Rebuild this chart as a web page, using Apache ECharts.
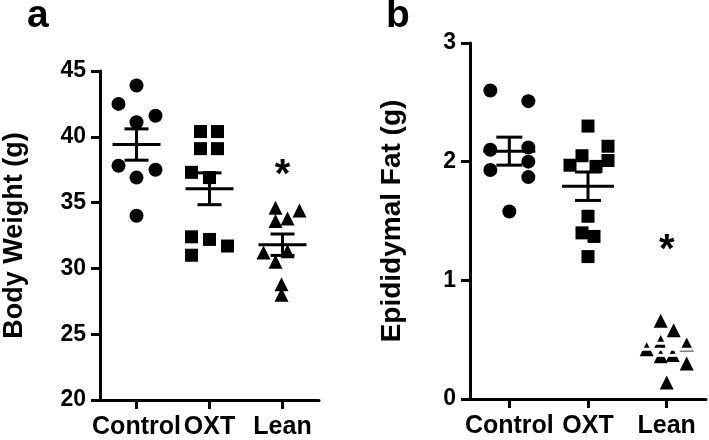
<!DOCTYPE html>
<html>
<head>
<meta charset="utf-8">
<script src="https://cdn.jsdelivr.net/npm/echarts@6/dist/echarts.min.js"></script>
<style>
  html, body { margin: 0; padding: 0; background: #fff; }
  #chart { width: 709px; height: 440px; }
</style>
</head>
<body>
<div id="chart"></div>
<script>
// groups
var groups = ['Control', 'OXT', 'Lean'];

// a: body weight (g)
var bwControl = [43.9, 42.5, 41.6, 41.1, 37.8, 37.5, 36.9, 34.0];
var bwOxt = [40.4, 40.4, 39.1, 39.1, 37.3, 36.9, 32.4, 32.2, 31.7, 31.0];
var bwLean = [34.6, 34.4, 33.6, 33.8, 31.2, 31.3, 30.5, 28.8, 28.0];
var bwStar = 37.6; // '*' over Lean

// b: epididymal fat (g)
var fatControl = [2.60, 2.51, 2.10, 2.12, 2.00, 1.93, 1.87, 1.58];
var fatOxt = [2.30, 2.13, 2.01, 2.05, 1.97, 1.96, 1.54, 1.40, 1.37, 1.20];
var fatLean = [0.66, 0.58, 0.48, 0.42, 0.46, 0.36, 0.37, 0.30, 0.14];
var fatStar = 1.32;

// y ticks
var bwTicks = [20, 25, 30, 35, 40, 45];
var fatTicks = [0, 1, 2, 3];

// horizontal spread of the dots (px), Prism style
var bwSpread = [
  [0, -18, 19, 0, -18, 19, 0, 0],
  [-9, 8, -9, 8, -18, 0, -18, 0, 18, -18],
  [-7, 17, -7, 5, -19, 5, -7, -1, -1]
];
var fatSpread = [
  [-19, 19, -19, 19, 19, -19, 19, 0],
  [0, 20, 20, -6, -18, 8, 0, -6, 6, 0],
  [-6, 7, -6, -20, 20, -6, 6, 20, 0]
];

var FONT = 'Liberation Sans, Arial, sans-serif';
var shapes = ['circle', 'rect', 'triangle'];
var sizes = [14, 13, 14];

function meanSem(arr) {
  var n = arr.length, m = 0, v = 0;
  for (var i = 0; i < n; i++) m += arr[i];
  m = m / n;
  for (var i = 0; i < n; i++) v += (arr[i] - m) * (arr[i] - m);
  return [m, Math.sqrt(v / (n - 1)) / Math.sqrt(n)];
}

function dots(arr, g, spread, idx) {
  return {
    type: 'scatter',
    xAxisIndex: idx, yAxisIndex: idx,
    symbol: shapes[g],
    symbolSize: sizes[g],
    itemStyle: { color: '#000', opacity: 1 },
    z: 3,
    data: arr.map(function (v, i) {
      return { value: [g, v], symbolOffset: [spread[g][i], 0] };
    })
  };
}

function errBars(sets, idx, halfMean, halfCap, colors) {
  return {
    type: 'custom',
    xAxisIndex: idx, yAxisIndex: idx,
    z: 4,
    silent: true,
    data: sets.map(function (s, g) { var ms = meanSem(s); return [g, ms[0], ms[1]]; }),
    renderItem: function (params, api) {
      var g = api.value(0), m = api.value(1), e = api.value(2);
      var pm = api.coord([g, m]), pt = api.coord([g, m + e]), pb = api.coord([g, m - e]);
      var st = { stroke: colors[params.dataIndex], lineWidth: 3 };
      return {
        type: 'group',
        children: [
          { type: 'line', shape: { x1: pm[0] - halfMean, y1: pm[1], x2: pm[0] + halfMean, y2: pm[1] }, style: st },
          { type: 'line', shape: { x1: pt[0], y1: pt[1], x2: pb[0], y2: pb[1] }, style: st },
          { type: 'line', shape: { x1: pt[0] - halfCap, y1: pt[1], x2: pt[0] + halfCap, y2: pt[1] }, style: st },
          { type: 'line', shape: { x1: pb[0] - halfCap, y1: pb[1], x2: pb[0] + halfCap, y2: pb[1] }, style: st }
        ]
      };
    }
  };
}

function star(val, idx) {
  return {
    type: 'scatter',
    xAxisIndex: idx, yAxisIndex: idx,
    symbolSize: 1,
    itemStyle: { color: 'rgba(0,0,0,0)', opacity: 1 },
    label: {
      show: true, position: 'inside', formatter: '*', opacity: 1,
      color: '#000', fontFamily: FONT, fontWeight: 'bold', fontSize: 40
    },
    data: [[2, val]]
  };
}

var axisLine = { show: true, lineStyle: { color: '#000', width: 3 } };
var axisTick = { show: true, length: 9, lineStyle: { color: '#000', width: 3 } };

function xAx(idx) {
  return {
    type: 'category', gridIndex: idx, data: groups,
    axisLine: axisLine, axisTick: { show: true, alignWithLabel: true, length: 9, lineStyle: { color: '#000', width: 3 } },
    axisLabel: { color: '#000', fontFamily: FONT, fontWeight: 'bold', fontSize: 25, margin: 15, interval: 0 },
    splitLine: { show: false }
  };
}

function yAx(idx, ticks, name, gap, nameSize) {
  return {
    type: 'value', gridIndex: idx,
    min: ticks[0], max: ticks[ticks.length - 1], interval: ticks[1] - ticks[0],
    name: name, nameLocation: 'middle', nameGap: gap, nameRotate: 90,
    nameTextStyle: { color: '#000', fontFamily: FONT, fontWeight: 'bold', fontSize: nameSize },
    axisLine: axisLine, axisTick: axisTick,
    axisLabel: { color: '#000', fontFamily: FONT, fontWeight: 'bold', fontSize: 23, margin: 14 },
    splitLine: { show: false }
  };
}

var chart = echarts.init(document.getElementById('chart'));
chart.setOption({
  animation: false,
  backgroundColor: '#fff',
  title: [
    { text: 'a', left: 22, top: -8, textStyle: { fontFamily: FONT, fontWeight: 'bold', fontSize: 39, color: '#000' } },
    { text: 'b', left: 381, top: -8, textStyle: { fontFamily: FONT, fontWeight: 'bold', fontSize: 39, color: '#000' } }
  ],
  grid: [
    { left: 97, right: 390, top: 71, bottom: 39 },
    { left: 470, right: 3, top: 43, bottom: 41 }
  ],
  xAxis: [xAx(0), xAx(1)],
  yAxis: [yAx(0, bwTicks, 'Body Weight (g)', 72, 27), yAx(1, fatTicks, 'Epididymal Fat (g)', 64, 28)],
  series: [
    dots(bwControl, 0, bwSpread, 0),
    dots(bwOxt, 1, bwSpread, 0),
    dots(bwLean, 2, bwSpread, 0),
    errBars([bwControl, bwOxt, bwLean], 0, 24, 12, ['#000', '#000', '#000']),
    star(bwStar - 0.6, 0),
    dots(fatControl, 0, fatSpread, 1),
    dots(fatOxt, 1, fatSpread, 1),
    dots(fatLean, 2, fatSpread, 1),
    errBars([fatControl, fatOxt, fatLean], 1, 26, 13, ['#000', '#000', '#fff']),
    star(fatStar - 0.07, 1)
  ]
});
</script>
</body>
</html>
